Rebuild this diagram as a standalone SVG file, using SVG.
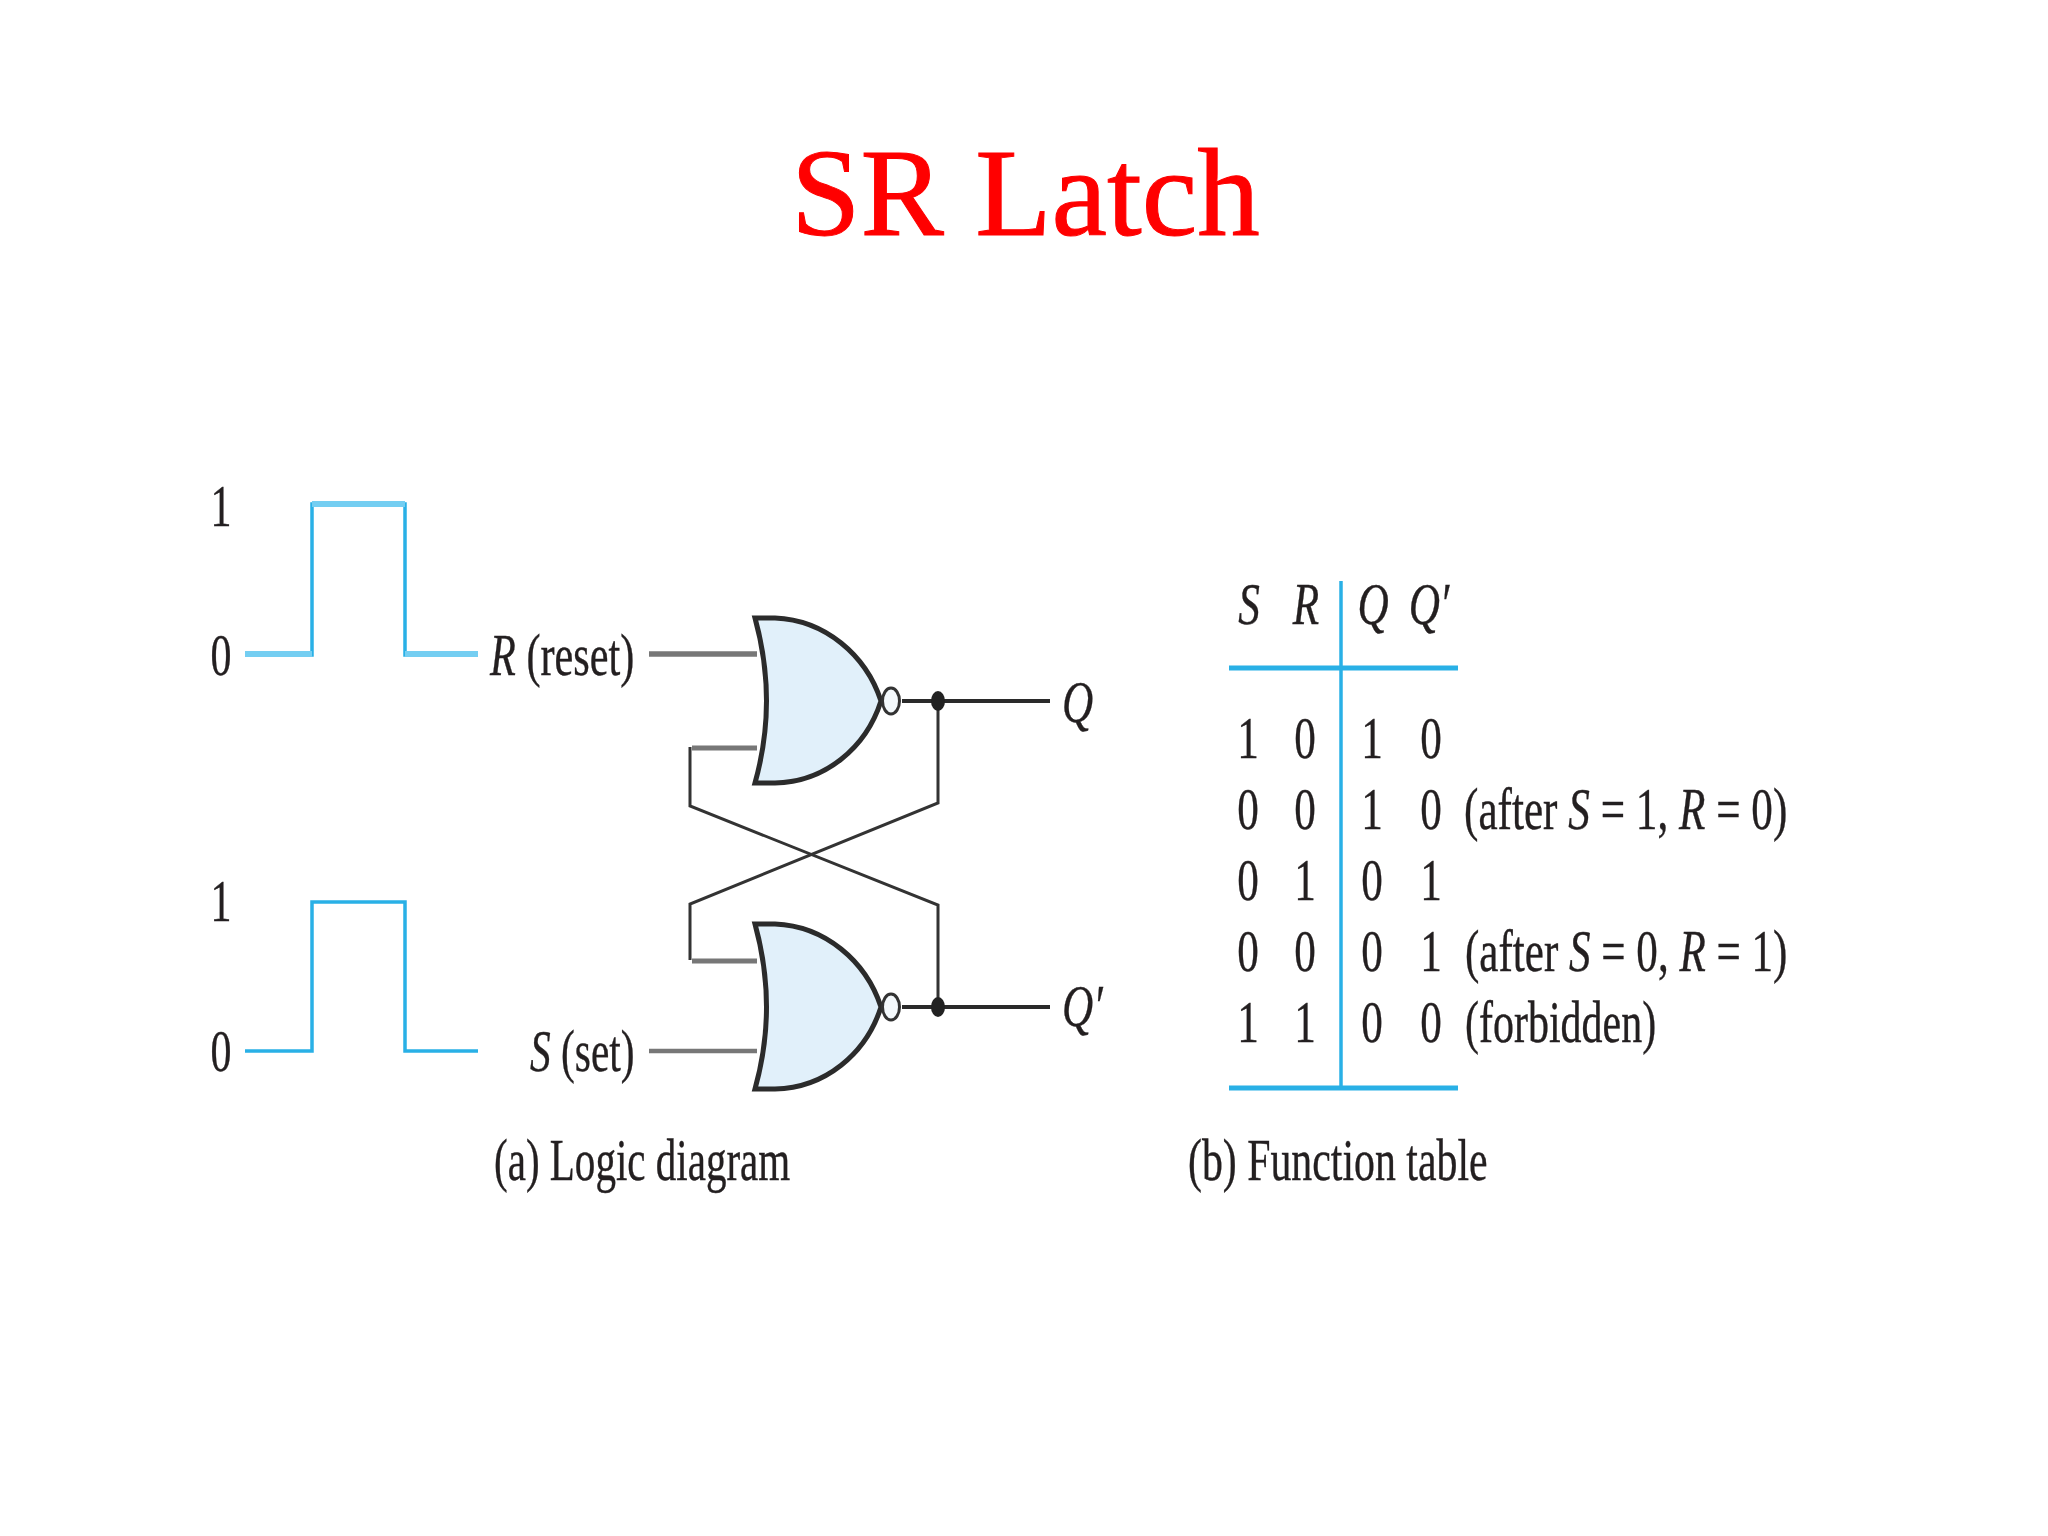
<svg xmlns="http://www.w3.org/2000/svg" width="2048" height="1536" viewBox="0 0 2048 1536">
<style>
text{font-family:"Liberation Serif","Times New Roman",serif;fill:#231f20;font-size:60px;stroke:#231f20;stroke-width:.4}
.title{fill:#ff0000;stroke:#ff0000;stroke-width:1;font-size:125px}
.i{font-style:italic}
.m{text-anchor:middle}
.wave{fill:none;stroke:#29b0e6;stroke-width:3.5}
.soft{fill:none;stroke:#74cef2;stroke-width:6}
.rule{fill:none;stroke:#29b0e6;stroke-width:5}
.thin{fill:none;stroke:#333;stroke-width:3}
.out{fill:none;stroke:#2a2a2a;stroke-width:4}
.in{fill:none;stroke:#777;stroke-width:5.5}
.gate{fill:#e1f0fa;stroke:#2b2b2b;stroke-width:5;stroke-linejoin:miter}
.bub{fill:#f4f9fc;stroke:#333;stroke-width:3}
</style>
<rect width="2048" height="1536" fill="#ffffff"/>
<text class="title" x="791" y="235">SR Latch</text>

<g id="connectors">
<path class="wave" d="M245 655H312V504H405V655H478"/>
<path class="soft" d="M312 504H405M245 654H312M405 654H478"/>
<path class="wave" d="M245 1051H312V902H405V1051H478"/>
<path class="in" d="M649 654H757"/>
<path class="in" d="M649 1051H757" style="stroke-width:4.5"/>
<path class="in" d="M692 748H757" style="stroke-width:5"/>
<path class="in" d="M692 961H757" style="stroke-width:5"/>
<path class="thin" d="M690 747V806L938 905V1007"/>
<path class="thin" d="M690 960V904L938 803V701"/>
<path class="out" d="M902 701H1050"/>
<path class="out" d="M902 1007H1050"/>
</g>

<g id="gate-top">
<path class="gate" d="M755 618L775 618C825 620 866 655 881 701C866 748 825 782 775 783L755 783Q778 701 755 618Z"/>
<ellipse class="bub" cx="891" cy="701" rx="8.5" ry="13"/>
</g>
<g id="gate-bottom">
<path class="gate" d="M755 924L775 924C825 926 866 961 881 1007C866 1054 825 1088 775 1089L755 1089Q778 1007 755 924Z"/>
<ellipse class="bub" cx="891" cy="1007" rx="8.5" ry="13"/>
</g>
<g id="junction-q"><ellipse cx="938" cy="701" rx="7" ry="10" fill="#222"/></g>
<g id="junction-qp"><ellipse cx="938" cy="1007" rx="7" ry="10" fill="#222"/></g>

<g id="wave-labels">
<text class="m" transform="translate(221 526) scale(.7 1)">1</text>
<text class="m" transform="translate(221 675) scale(.7 1)">0</text>
<text class="m" transform="translate(221 921) scale(.7 1)">1</text>
<text class="m" transform="translate(221 1071) scale(.7 1)">0</text>
</g>
<g id="signal-labels">
<text transform="translate(490 675) scale(.705 1)"><tspan class="i">R</tspan> (reset)</text>
<text transform="translate(530 1071) scale(.69 1)"><tspan class="i">S</tspan> (set)</text>
<text class="i" transform="translate(1062 722) scale(.72 1)">Q</text>
<text class="i" transform="translate(1062 1026) scale(.72 1)">Q′</text>
</g>
<text id="caption-a" transform="translate(494 1180) scale(.684 1)">(a) Logic diagram</text>

<g id="function-table">
<path class="rule" d="M1229 668H1458M1229 1088H1458"/>
<path class="wave" d="M1341 581V1088"/>
<g class="i">
<text class="m i" transform="translate(1249 624) scale(.72 1)">S</text>
<text class="m i" transform="translate(1306 624) scale(.72 1)">R</text>
<text class="m i" transform="translate(1373 624) scale(.72 1)">Q</text>
<text class="m i" transform="translate(1429 624) scale(.72 1)">Q′</text>
</g>
<text class="m" transform="translate(1248 758) scale(.72 1)">1</text><text class="m" transform="translate(1305 758) scale(.72 1)">0</text><text class="m" transform="translate(1372 758) scale(.72 1)">1</text><text class="m" transform="translate(1431 758) scale(.72 1)">0</text>
<text class="m" transform="translate(1248 829) scale(.72 1)">0</text><text class="m" transform="translate(1305 829) scale(.72 1)">0</text><text class="m" transform="translate(1372 829) scale(.72 1)">1</text><text class="m" transform="translate(1431 829) scale(.72 1)">0</text>
<text class="m" transform="translate(1248 900) scale(.72 1)">0</text><text class="m" transform="translate(1305 900) scale(.72 1)">1</text><text class="m" transform="translate(1372 900) scale(.72 1)">0</text><text class="m" transform="translate(1431 900) scale(.72 1)">1</text>
<text class="m" transform="translate(1248 971) scale(.72 1)">0</text><text class="m" transform="translate(1305 971) scale(.72 1)">0</text><text class="m" transform="translate(1372 971) scale(.72 1)">0</text><text class="m" transform="translate(1431 971) scale(.72 1)">1</text>
<text class="m" transform="translate(1248 1042) scale(.72 1)">1</text><text class="m" transform="translate(1305 1042) scale(.72 1)">1</text><text class="m" transform="translate(1372 1042) scale(.72 1)">0</text><text class="m" transform="translate(1431 1042) scale(.72 1)">0</text>
<text transform="translate(1464 829) scale(.72 1)">(after <tspan class="i">S</tspan> = 1, <tspan class="i">R</tspan> = 0)</text>
<text transform="translate(1465 971) scale(.718 1)">(after <tspan class="i">S</tspan> = 0, <tspan class="i">R</tspan> = 1)</text>
<text transform="translate(1465 1042) scale(.7 1)">(forbidden)</text>
</g>
<text id="caption-b" transform="translate(1188 1180) scale(.697 1)">(b) Function table</text>
</svg>
